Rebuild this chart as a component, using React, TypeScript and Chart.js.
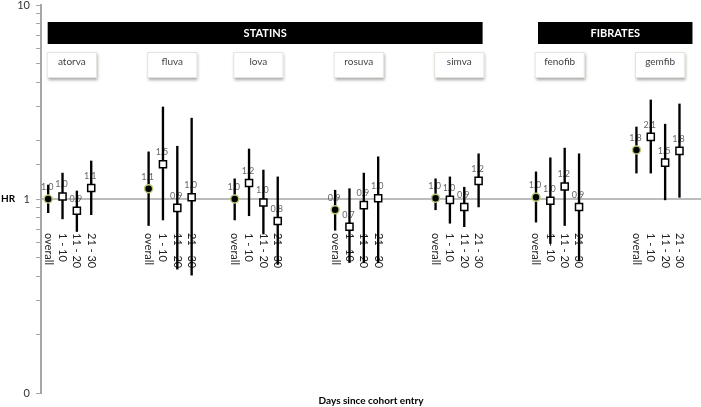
import React, { useEffect, useRef } from 'react';
import { Chart, registerables } from 'chart.js';
Chart.register(...registerables);

const drugs = ['atorva', 'fluva', 'lova', 'rosuva', 'simva', 'fenofib', 'gemfib'];
const windows = ['overall', '1 - 10', '11 - 20', '21 - 30'];
const groupStart = [0, 7, 13, 20, 27, 34, 41];
const categoryCount = 46;

const drugClasses = ['STATINS', 'FIBRATES'];
const classFirstDrug = [0, 5];
const classLastDrug = [4, 6];

// hazard ratios per drug: [overall, 1-10, 11-20, 21-30]
const hrEstimate = [
  [1.0, 1.03, 0.87, 1.14],
  [1.13, 1.51, 0.9, 1.02],
  [1.0, 1.21, 0.96, 0.77],
  [0.88, 0.72, 0.93, 1.01],
  [1.01, 0.99, 0.91, 1.24],
  [1.02, 0.98, 1.16, 0.91],
  [1.79, 2.09, 1.54, 1.77],
];
const ciLower = [
  [0.85, 0.79, 0.68, 0.83],
  [0.73, 0.78, 0.435, 0.405],
  [0.78, 0.82, 0.66, 0.46],
  [0.69, 0.47, 0.47, 0.47],
  [0.88, 0.75, 0.72, 0.91],
  [0.76, 0.59, 0.73, 0.48],
  [1.36, 1.36, 0.99, 1.02],
];
const ciUpper = [
  [1.18, 1.36, 1.1, 1.57],
  [1.75, 2.98, 1.87, 2.61],
  [1.27, 1.81, 1.41, 1.3],
  [1.11, 1.13, 1.36, 1.65],
  [1.27, 1.3, 1.15, 1.71],
  [1.38, 1.63, 1.83, 1.71],
  [2.35, 3.24, 2.43, 3.09],
];

const FONT = 'Lato, "Open Sans", sans-serif';

function buildData() {
  const labels: string[] = new Array(categoryCount).fill('');
  const overall: (number | null)[] = new Array(categoryCount).fill(null);
  const periods: (number | null)[] = new Array(categoryCount).fill(null);
  const ci: ([number, number] | null)[] = new Array(categoryCount).fill(null);
  drugs.forEach((_, d) => {
    windows.forEach((w, j) => {
      const idx = groupStart[d] + j;
      labels[idx] = w;
      if (j === 0) overall[idx] = hrEstimate[d][j];
      else periods[idx] = hrEstimate[d][j];
      ci[idx] = [ciLower[d][j], ciUpper[d][j]];
    });
  });
  return { labels, overall, periods, ci };
}

const annotatePlugin = {
  id: 'annotate',
  beforeDatasetsDraw(chart: any) {
    const { ctx, chartArea, scales } = chart;
    const x = scales.x;
    const y = scales.y;
    const y1 = y.getPixelForValue(1);
    ctx.save();
    ctx.strokeStyle = '#a6a6a6';
    ctx.lineWidth = 1.5;
    ctx.beginPath();
    ctx.moveTo(chartArea.left, y1);
    ctx.lineTo(chartArea.right, y1);
    ctx.stroke();

    ctx.fillStyle = '#222';
    ctx.font = `11px ${FONT}`;
    ctx.textAlign = 'left';
    ctx.textBaseline = 'middle';
    (chart.data.labels as string[]).forEach((lab, i) => {
      if (!lab) return;
      const px = x.getPixelForValue(i);
      ctx.save();
      ctx.translate(px, y1 + 34);
      ctx.rotate(Math.PI / 2);
      ctx.fillText(lab, 0, 0);
      ctx.restore();
    });

    ctx.fillStyle = '#000';
    ctx.font = `bold 10px ${FONT}`;
    ctx.textAlign = 'center';
    ctx.fillText('HR', 8, y1);

    ctx.fillStyle = '#666';
    ctx.font = `9px ${FONT}`;
    ctx.textAlign = 'center';
    ctx.textBaseline = 'middle';
    drugs.forEach((_, d) => {
      windows.forEach((__, j) => {
        const v = hrEstimate[d][j];
        const px = x.getPixelForValue(groupStart[d] + j);
        const py = y.getPixelForValue(v);
        ctx.fillText(v.toFixed(1), px - 1, py - 12);
      });
    });

    drugClasses.forEach((name, c) => {
      const first = groupStart[classFirstDrug[c]];
      const last = groupStart[classLastDrug[c]] + 3;
      const left = x.getPixelForValue(first) + (c === 0 ? -0.5 : 2);
      const right = x.getPixelForValue(last) + (c === 0 ? 4 : 13);
      ctx.fillStyle = '#000';
      ctx.fillRect(left, 22, right - left, 22);
      ctx.fillStyle = '#fff';
      ctx.font = `bold 11px ${FONT}`;
      ctx.textAlign = 'center';
      ctx.textBaseline = 'middle';
      ctx.fillText(name, (left + right) / 2, 33.5);
    });

    drugs.forEach((name, d) => {
      const left = x.getPixelForValue(groupStart[d] - 0.1);
      const right = x.getPixelForValue(groupStart[d] + 3.4);
      ctx.save();
      ctx.shadowColor = 'rgba(0,0,0,0.35)';
      ctx.shadowBlur = 3;
      ctx.shadowOffsetX = 1;
      ctx.shadowOffsetY = 2;
      ctx.fillStyle = '#fff';
      ctx.fillRect(left, 52, right - left, 26);
      ctx.restore();
      ctx.strokeStyle = '#e4e4dc';
      ctx.lineWidth = 1;
      ctx.strokeRect(left + 0.5, 52.5, right - left - 1, 25);
      ctx.fillStyle = '#444';
      ctx.font = `10px ${FONT}`;
      ctx.textAlign = 'center';
      ctx.textBaseline = 'middle';
      ctx.fillText(name, (left + right) / 2, 62);
    });
    ctx.restore();
  },
};

export default function App() {
  const canvasRef = useRef<HTMLCanvasElement | null>(null);
  useEffect(() => {
    const { labels, overall, periods, ci } = buildData();
    const chart = new Chart(canvasRef.current as HTMLCanvasElement, {
      type: 'bar',
      data: {
        labels,
        datasets: [
          {
            type: 'line',
            data: overall,
            showLine: false,
            pointStyle: 'circle',
            pointRadius: 4,
            pointBorderWidth: 1.5,
            pointBackgroundColor: '#000',
            pointBorderColor: '#b7cc7a',
            order: 0,
            clip: false,
          } as any,
          {
            type: 'line',
            data: periods,
            showLine: false,
            pointStyle: 'rect',
            pointRadius: 5,
            pointBorderWidth: 1.5,
            pointBackgroundColor: '#fff',
            pointBorderColor: '#000',
            order: 0,
            clip: false,
          } as any,
          {
            type: 'bar',
            data: ci as any,
            backgroundColor: '#000',
            borderWidth: 0,
            barThickness: 1.7,
            order: 2,
          } as any,
        ],
      },
      options: {
        animation: false,
        responsive: false,
        events: [],
        layout: { autoPadding: false, padding: { top: 0, left: 0, right: 0, bottom: 0 } },
        plugins: { legend: { display: false }, tooltip: { enabled: false } },
        scales: {
          x: {
            type: 'category',
            offset: true,
            grid: { display: false },
            border: { display: false },
            ticks: { display: false },
            title: {
              display: true,
              text: 'Days since cohort entry',
              color: '#000',
              font: { family: FONT, size: 10, weight: 'bold' },
              padding: 0,
            },
            afterFit: (s: any) => {
              s.height = 14;
              s.paddingLeft = 0;
              s.paddingRight = 0;
              s.paddingTop = 0;
              s.paddingBottom = 0;
            },
          },
          y: {
            type: 'logarithmic',
            min: 0.1,
            max: 10,
            position: 'left',
            grid: { drawOnChartArea: false, tickLength: 5, color: '#a6a6a6', lineWidth: 1 },
            border: { color: '#a6a6a6', width: 2 },
            ticks: {
              autoSkip: false,
              padding: 6,
              color: '#333',
              font: { family: FONT, size: 11 },
              callback: (v: any) => {
                const n = Number(v);
                if (Math.abs(n - 10) < 1e-9) return '10';
                if (Math.abs(n - 1) < 1e-9) return '1';
                if (Math.abs(n - 0.1) < 1e-9) return '0';
                return '';
              },
            },
            afterFit: (s: any) => {
              s.width = 41;
              s.paddingTop = 5;
              s.paddingBottom = 0;
              s.paddingLeft = 0;
              s.paddingRight = 0;
            },
          },
        },
      } as any,
      plugins: [annotatePlugin],
    });
    return () => chart.destroy();
  }, []);
  return (
    <div style={{ position: 'absolute', left: 0, top: 0, width: 701, height: 407, background: '#fff' }}>
      <canvas ref={canvasRef} width={701} height={407} />
    </div>
  );
}
